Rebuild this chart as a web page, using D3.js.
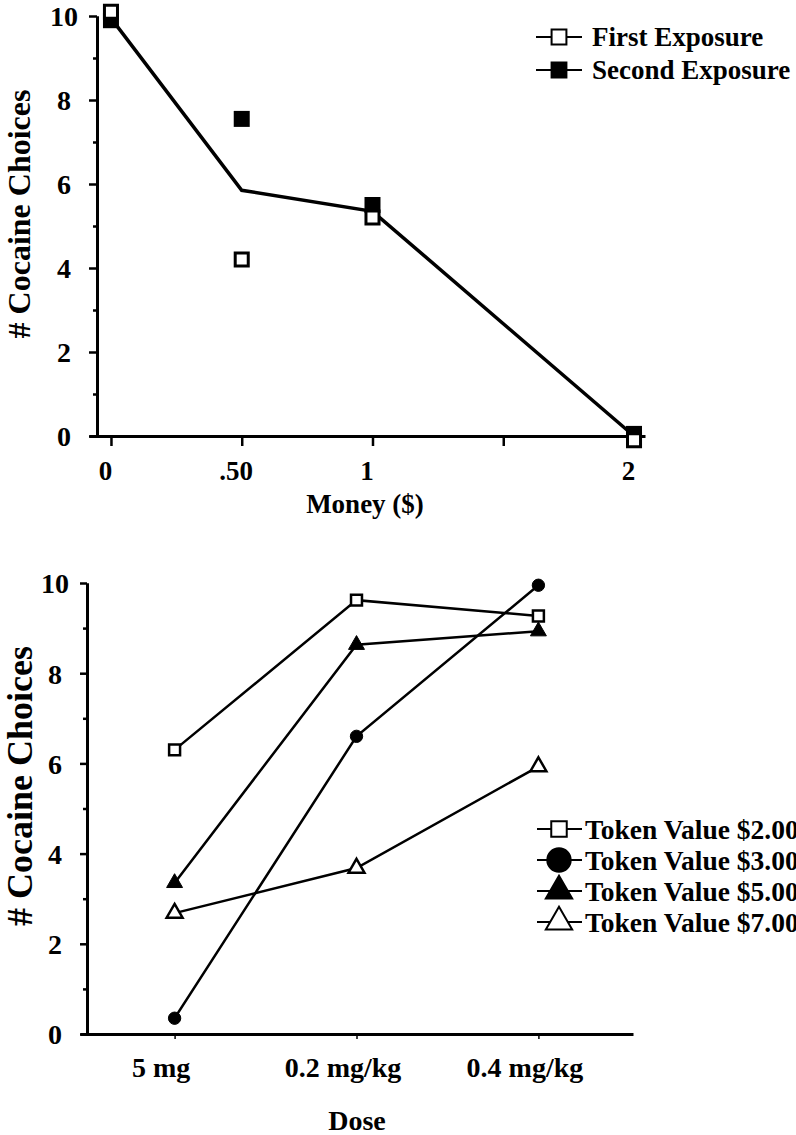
<!DOCTYPE html>
<html>
<head>
<script src="https://d3js.org/d3.v7.min.js"></script>
<style>
  body { margin: 0; background: #fff; }
  text { font-family: "Liberation Serif", "Times New Roman", serif; font-weight: bold; fill: #000; }
</style>
</head>
<body>
<svg width="796" height="1135"></svg>
<script>
// ---- top panel data: money alternative ----
const money = [0, 0.5, 1, 2];
const moneyLabels = ["0", ".50", "1", "", "2"];
const moneyTicks = [0, 0.5, 1, 1.5, 2];
const firstExposure = [10.1, 4.2, 5.2, -0.1];
const secondExposure = [9.9, 7.55, 5.5, 0.05];
const meanLine = [9.95, 5.85, 5.35, 0];

// ---- bottom panel data: dose x token value ----
const doses = ["5 mg", "0.2 mg/kg", "0.4 mg/kg"];
const token2 = [6.3, 9.62, 9.27];
const token3 = [0.35, 6.6, 9.95];
const token5 = [3.35, 8.63, 8.93];
const token7 = [2.68, 3.68, 5.93];
const tokenNames = ["Token Value $2.00", "Token Value $3.00", "Token Value $5.00", "Token Value $7.00"];

const yTicks = [0, 2, 4, 6, 8, 10];
const yMinor = [1, 3, 5, 7, 9];

const svg = d3.select("svg");

function styleAxis(g, w, fs) {
  g.select(".domain").attr("stroke", "#000").attr("stroke-width", w);
  g.selectAll(".tick line").attr("stroke", "#000").attr("stroke-width", w - 0.5);
  g.selectAll(".tick text").style("font-size", fs + "px").attr("fill", "#000");
}

// ================= TOP PANEL =================
const x1 = d3.scaleLinear().domain([-0.084, 2.042]).range([89, 645]);
const y1 = d3.scaleLinear().domain([0, 10]).range([436, 16]);

const topG = svg.append("g");

topG.append("g")
  .attr("transform", "translate(0,436)")
  .call(d3.axisBottom(x1).tickValues(moneyTicks).tickSize(10).tickSizeOuter(0)
    .tickFormat((d, i) => moneyLabels[i]))
  .call(g => styleAxis(g, 3, 27))
  .call(g => g.selectAll(".tick text").attr("y", 35).attr("dy", "0.35em").attr("dx", -6));

topG.append("g")
  .attr("transform", "translate(97,0)")
  .call(d3.axisLeft(y1).tickValues(yMinor).tickSize(4).tickSizeOuter(0).tickFormat(""))
  .call(g => styleAxis(g, 3, 27));

topG.append("g")
  .attr("transform", "translate(97,0)")
  .call(d3.axisLeft(y1).tickValues(yTicks).tickSize(8).tickSizeOuter(0))
  .call(g => styleAxis(g, 3, 28))
  .call(g => g.selectAll(".tick text").attr("text-anchor", "middle").attr("x", -33).attr("dy", "0.35em"));

topG.append("text")
  .attr("transform", "translate(30,214) rotate(-90)")
  .attr("text-anchor", "middle")
  .style("font-size", "32px")
  .text("# Cocaine Choices");

topG.append("text")
  .attr("x", 365).attr("y", 513)
  .attr("text-anchor", "middle")
  .style("font-size", "27px")
  .text("Money ($)");

const lineTop = d3.line().x((d, i) => x1(money[i])).y(d => y1(d));
topG.append("path")
  .datum(meanLine)
  .attr("d", lineTop)
  .attr("fill", "none")
  .attr("stroke", "#000")
  .attr("stroke-width", 3.5);

topG.selectAll(".second")
  .data(secondExposure)
  .enter().append("path")
  .attr("class", "second")
  .attr("d", d3.symbol().type(d3.symbolSquare).size(256))
  .attr("transform", (d, i) => `translate(${x1(money[i])},${y1(d)})`)
  .attr("fill", "#000");

topG.selectAll(".first")
  .data(firstExposure)
  .enter().append("path")
  .attr("class", "first")
  .attr("d", d3.symbol().type(d3.symbolSquare).size(170))
  .attr("transform", (d, i) => `translate(${x1(money[i])},${y1(d)})`)
  .attr("fill", "#fff")
  .attr("stroke", "#000")
  .attr("stroke-width", 3);

// top legend
const legTop = [
  { name: "First Exposure", fill: "#fff" },
  { name: "Second Exposure", fill: "#000" }
];
legTop.forEach((d, i) => {
  const g = topG.append("g").attr("transform", `translate(0,${37 + i * 33})`);
  g.append("line").attr("x1", 536).attr("x2", 582).attr("stroke", "#000").attr("stroke-width", 2);
  g.append("path").attr("d", d3.symbol().type(d3.symbolSquare).size(220))
    .attr("transform", "translate(559,0)")
    .attr("fill", d.fill).attr("stroke", "#000").attr("stroke-width", 2);
  g.append("text").attr("x", 592).attr("y", 9).style("font-size", "27px").text(d.name);
});

// ================= BOTTOM PANEL =================
const x2 = d3.scalePoint().domain(doses).range([80, 633]).padding(0.52);
const y2 = d3.scaleLinear().domain([0, 10]).range([1034, 583]);

const botG = svg.append("g");

botG.append("g")
  .attr("transform", "translate(0,1034)")
  .call(d3.axisBottom(x2).tickSize(5).tickSizeOuter(0))
  .call(g => styleAxis(g, 3, 28))
  .call(g => g.selectAll(".tick line").attr("stroke-width", 1.5))
  .call(g => g.selectAll(".tick text").attr("y", 33).attr("dy", "0.35em").attr("dx", -14));

botG.append("g")
  .attr("transform", "translate(87,0)")
  .call(d3.axisLeft(y2).tickValues(yMinor).tickSize(4).tickSizeOuter(0).tickFormat(""))
  .call(g => styleAxis(g, 3, 28));

botG.append("g")
  .attr("transform", "translate(87,0)")
  .call(d3.axisLeft(y2).tickValues(yTicks).tickSize(7).tickSizeOuter(0))
  .call(g => styleAxis(g, 3, 28))
  .call(g => g.selectAll(".tick text").attr("text-anchor", "middle").attr("x", -32).attr("dy", "0.35em"));

botG.append("text")
  .attr("transform", "translate(32,786) rotate(-90)")
  .attr("text-anchor", "middle")
  .style("font-size", "36px")
  .text("# Cocaine Choices");

botG.append("text")
  .attr("x", 357).attr("y", 1130)
  .attr("text-anchor", "middle")
  .style("font-size", "28px")
  .text("Dose");

const series = [
  { name: tokenNames[0], values: token2, type: d3.symbolSquare, size: 120, fill: "#fff", legSize: 240 },
  { name: tokenNames[1], values: token3, type: d3.symbolCircle, size: 120, fill: "#000", legSize: 430 },
  { name: tokenNames[2], values: token5, type: d3.symbolTriangle, size: 110, fill: "#000", legSize: 300 },
  { name: tokenNames[3], values: token7, type: d3.symbolTriangle, size: 110, fill: "#fff", legSize: 300 }
];

const lineBot = d3.line().x((d, i) => x2(doses[i])).y(d => y2(d));

series.forEach(s => {
  botG.append("path")
    .datum(s.values)
    .attr("d", lineBot)
    .attr("fill", "none")
    .attr("stroke", "#000")
    .attr("stroke-width", 2.5);
});

series.forEach(s => {
  botG.selectAll(null)
    .data(s.values)
    .enter().append("path")
    .attr("d", d3.symbol().type(s.type).size(s.size))
    .attr("transform", (d, i) => `translate(${x2(doses[i])},${y2(d)})`)
    .attr("fill", s.fill)
    .attr("stroke", "#000")
    .attr("stroke-width", s.fill === "#fff" ? 2.5 : 1);
});

// bottom legend
series.forEach((s, i) => {
  const g = botG.append("g").attr("transform", `translate(0,${829 + i * 31})`);
  g.append("line").attr("x1", 537).attr("x2", 582).attr("stroke", "#000").attr("stroke-width", 2);
  g.append("path").attr("d", d3.symbol().type(s.type).size(s.legSize))
    .attr("transform", "translate(559,0)")
    .attr("fill", s.fill).attr("stroke", "#000").attr("stroke-width", 2);
  g.append("text").attr("x", 585).attr("y", 10).style("font-size", "27.5px").text(s.name);
});
</script>
</body>
</html>
